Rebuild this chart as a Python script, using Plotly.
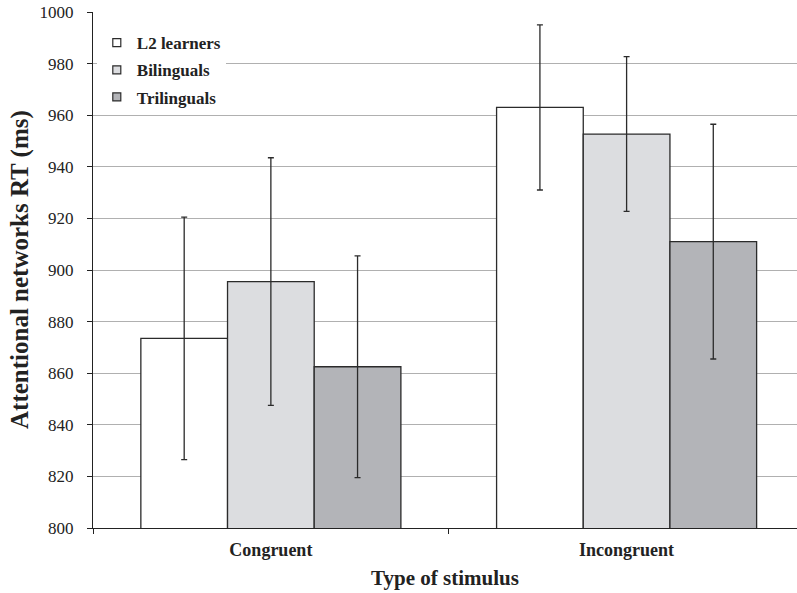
import plotly.graph_objects as go

categories = ["Congruent", "Incongruent"]
groups = ["L2 learners", "Bilinguals", "Trilinguals"]
means = {
    "L2 learners": [873.5, 963.0],
    "Bilinguals": [895.5, 952.7],
    "Trilinguals": [862.5, 911.0],
}
errors = {
    "L2 learners": [47.0, 32.0],
    "Bilinguals": [48.0, 30.0],
    "Trilinguals": [43.0, 45.5],
}
colors = {
    "L2 learners": "#ffffff",
    "Bilinguals": "#dcdde0",
    "Trilinguals": "#b3b4b8",
}

FONT = "Liberation Serif"
fig = go.Figure()
for g in groups:
    fig.add_trace(go.Bar(
        x=categories, y=means[g], name=g, showlegend=False,
        marker=dict(color=colors[g], line=dict(color="#2b2b2b", width=1.3)),
        error_y=dict(type="data", array=errors[g], visible=True,
                     color="#2b2b2b", thickness=1.3, width=3),
    ))
for i, g in enumerate(groups):
    fig.add_trace(go.Scatter(
        x=[None], y=[None], mode="markers", name=g, legendgroup=g,
        marker=dict(symbol="square", size=8, color=colors[g],
                    line=dict(color="#2b2b2b", width=1.2)),
    ))

fig.add_annotation(
    text="<b>Attentional networks RT (ms)</b>", xref="paper", yref="paper",
    x=0, y=0.5, xanchor="center", yanchor="middle", xshift=-73,
    textangle=-90, showarrow=False,
    font=dict(family=FONT, size=25, color="#222222"),
)

fig.update_layout(
    width=797, height=593,
    margin=dict(l=93, r=0, t=12, b=65),
    paper_bgcolor="white", plot_bgcolor="white",
    barmode="group", bargap=0.269, bargroupgap=0,
    font=dict(family=FONT, color="#222222"),
    legend=dict(x=0.0054, y=0.9745, xanchor="left", yanchor="top",
                bgcolor="white", font=dict(family=FONT, size=17, weight="bold"),
                itemwidth=30, tracegroupgap=2, traceorder="grouped"),
    xaxis=dict(
        range=[-0.5, 1.479], tickson="boundaries", ticks="outside", ticklen=5,
        tickcolor="#222222", showline=True, linecolor="#222222", linewidth=1,
        showgrid=False, automargin=False, ticklabelstandoff=5,
        tickfont=dict(family=FONT, size=18, weight="bold"),
        title=dict(text="Type of stimulus", standoff=11,
                   font=dict(family=FONT, size=21, weight="bold")),
    ),
    yaxis=dict(
        range=[800, 1000], dtick=20, ticks="outside", ticklen=5,
        tickcolor="#222222", showline=True, linecolor="#222222", linewidth=1,
        showgrid=True, gridcolor="#b0b0b0", gridwidth=1.3, zeroline=False,
        automargin=False, ticklabelstandoff=10, ticklabeloverflow="allow",
        tickfont=dict(family=FONT, size=17),
    ),
)
fig.write_html("out.html", config={"displayModeBar": False},
               post_script="document.body.style.margin='0px';")
